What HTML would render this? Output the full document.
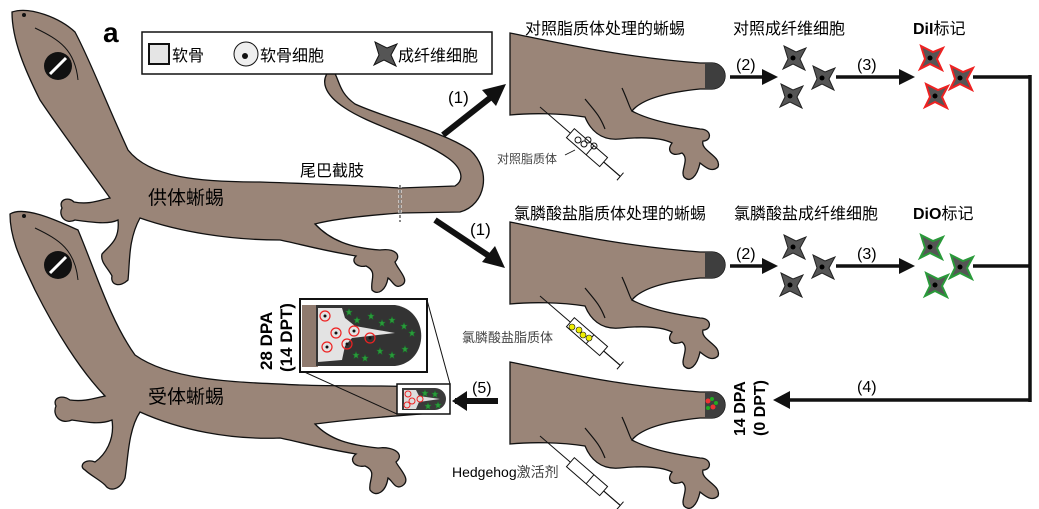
<!DOCTYPE html>
<html><head><meta charset="utf-8"><style>
html,body{margin:0;padding:0;background:#fff}
svg{display:block}
text{font-family:"Liberation Sans","Noto Sans CJK SC",sans-serif}
</style></head><body>
<svg width="1039" height="509" viewBox="0 0 1039 509" xmlns="http://www.w3.org/2000/svg">
<defs>
<g id="part">
<path d="M510,222 C560,232 620,246 700,252 L712,252 A13,13 0 0 1 712,278 L700,278 C660,282 640,290 632,300 C650,310 680,315 700,318 C712,318 712,330 703,330 C700,340 722,345 718,356 C712,362 705,356 700,352 C697,366 690,372 684,366 C680,360 690,348 682,342 C672,346 666,340 672,332 C660,326 640,326 620,328 C600,330 590,318 585,306 C560,302 530,302 510,304 Z" fill="#9a8578" stroke="#111" stroke-width="1.3"/>
<path d="M622,277 C628,290 630,298 632,300" fill="none" stroke="#111" stroke-width="1.2"/>
<path d="M585,288 C595,300 600,305 605,318" fill="none" stroke="#111" stroke-width="1.2"/>
<line x1="540" y1="296" x2="620" y2="365" stroke="#111" stroke-width="1"/>
<g transform="translate(584,334) rotate(41)"><rect x="-18" y="-6" width="44" height="12" fill="#fff" stroke="#111"/><line x1="8" y1="-6" x2="8" y2="6" stroke="#111"/><line x1="26" y1="0" x2="48" y2="0" stroke="#111"/><line x1="48" y1="-5" x2="48" y2="5" stroke="#111"/></g>
</g>
<g id="star"><path d="M-9,-12 L3,-6 L13,-10 L7,1 L12,12 L0,6 L-10,11 L-5,1 Z"/></g>
<g id="gs"><path d="M0,-3.5 L1,-1 L3.5,-1 L1.5,0.8 L2.2,3.5 L0,2 L-2.2,3.5 L-1.5,0.8 L-3.5,-1 L-1,-1 Z" fill="#2a9a3a" stroke="#1a6a2a" stroke-width=".5"/></g>
</defs>

<!-- donor gecko -->
<path d="M12,12 C30,6 60,18 75,32 C90,60 105,100 128,150 C150,178 200,182 260,182 C320,184 370,186 400,188 L455,186 C465,180 462,168 448,158 C420,138 370,125 345,108 C325,95 318,80 332,68 C340,80 338,92 355,104 C390,120 440,130 470,150 C492,170 486,205 460,212 L400,213 C360,216 330,220 315,224 C330,240 350,248 380,250 C395,248 402,255 395,262 C398,270 410,280 402,285 C395,290 392,280 388,278 C386,290 378,296 372,290 C370,280 378,272 366,266 C358,268 350,262 356,256 C320,250 300,244 280,240 C230,240 180,232 140,218 C128,240 130,262 128,280 C120,288 110,285 112,276 C108,268 100,262 102,254 C110,245 120,240 118,220 C108,225 90,222 75,220 C65,225 58,215 62,208 C58,200 68,196 74,202 C90,205 100,200 110,198 C90,170 60,130 40,100 C25,70 12,40 12,12 Z" fill="#9a8578" stroke="#111" stroke-width="1.3"/>
<circle cx="24" cy="15" r="2" fill="#111"/>
<circle cx="58" cy="66" r="14" fill="#111"/><line x1="50" y1="74" x2="66" y2="58" stroke="#fff" stroke-width="3"/>
<path d="M35,28 C60,40 75,50 78,80" fill="none" stroke="#111"/>
<line x1="400" y1="185" x2="400" y2="222" stroke="#fff" stroke-width="3" stroke-dasharray="3,2"/>
<line x1="400" y1="185" x2="400" y2="222" stroke="#111" stroke-width="1" stroke-dasharray="3,2"/>

<!-- recipient gecko -->
<path d="M10,214 C25,205 60,222 78,230 C95,270 110,320 135,355 C170,380 230,382 300,385 C360,387 410,384 445,390 L446,412 C410,415 360,418 315,424 C330,440 350,445 378,448 C395,446 405,455 396,462 C400,470 412,480 402,486 C395,490 392,480 388,478 C386,492 376,498 370,490 C368,480 378,472 365,466 C355,468 348,460 356,454 C320,448 300,442 280,438 C230,440 180,430 140,412 C128,430 128,460 125,478 C120,490 110,492 105,485 C100,480 90,475 85,470 C78,466 85,458 95,462 C105,455 115,440 112,420 C100,425 85,422 72,420 C60,425 52,415 56,406 C52,398 62,394 70,400 C85,402 95,398 105,396 C80,370 55,330 35,290 C22,262 10,240 10,214 Z" fill="#9a8578" stroke="#111" stroke-width="1.3"/>
<circle cx="24" cy="216" r="2" fill="#111"/>
<circle cx="58" cy="265" r="14" fill="#111"/><line x1="50" y1="273" x2="66" y2="257" stroke="#fff" stroke-width="3"/>
<path d="M35,228 C60,240 75,250 78,280" fill="none" stroke="#111"/>

<!-- small box on recipient tail -->
<rect x="397" y="384" width="53" height="30" fill="#fff" stroke="#111" stroke-width="1.5"/>
<path d="M402,388 L435,388 A11,11 0 0 1 435,410 L402,410 Z" fill="#3a3a3a"/>
<path d="M404,390 L416,390 L419,396 L440,399 L419,402 L416,409 L404,409 Z" fill="#ddd"/>
<g fill="none" stroke="#e22" stroke-width="1"><circle cx="408" cy="394" r="3"/><circle cx="412" cy="401" r="3"/><circle cx="420" cy="399" r="3"/><circle cx="407" cy="405" r="3"/></g>
<g><use href="#gs" transform="translate(425,393)"/><use href="#gs" transform="translate(435,394)"/><use href="#gs" transform="translate(428,406)"/><use href="#gs" transform="translate(438,405)"/></g>
<line x1="397" y1="414" x2="300" y2="370" stroke="#111"/>
<line x1="450" y1="384" x2="427" y2="300" stroke="#111"/>
<!-- big inset -->
<rect x="300" y="299" width="127" height="73" fill="#fff" stroke="#111" stroke-width="2"/>
<rect x="302" y="305" width="16" height="62" fill="#8f7a6e"/>
<path d="M316,305 L395,305 C430,310 430,362 395,366 L316,366 Z" fill="#333"/>
<path d="M318,308 L342,308 L345,318 L355,326 L395,333 L352,338 L345,346 L342,360 L318,362 Z" fill="#e3e3e3"/>
<g fill="none" stroke="#e22" stroke-width="1.2"><circle cx="325" cy="316" r="5"/><circle cx="336" cy="333" r="5"/><circle cx="354" cy="331" r="5"/><circle cx="370" cy="338" r="5"/><circle cx="327" cy="347" r="5"/><circle cx="347" cy="344" r="5"/></g>
<g fill="#111"><circle cx="325" cy="316" r="1.5"/><circle cx="336" cy="333" r="1.5"/><circle cx="354" cy="331" r="1.5"/><circle cx="370" cy="338" r="1.5"/><circle cx="327" cy="347" r="1.5"/><circle cx="347" cy="344" r="1.5"/></g>
<g transform="scale(1)"><use href="#gs" transform="translate(349,312)"/><use href="#gs" transform="translate(357,320)"/><use href="#gs" transform="translate(371,316)"/><use href="#gs" transform="translate(382,323)"/><use href="#gs" transform="translate(392,320)"/><use href="#gs" transform="translate(404,326)"/><use href="#gs" transform="translate(412,333)"/><use href="#gs" transform="translate(356,355)"/><use href="#gs" transform="translate(365,358)"/><use href="#gs" transform="translate(380,351)"/><use href="#gs" transform="translate(392,355)"/><use href="#gs" transform="translate(405,349)"/></g>
<text transform="translate(272,370) rotate(-90)" font-size="17" font-weight="bold">28 DPA</text>
<text transform="translate(292,372) rotate(-90)" font-size="17" font-weight="bold">(14 DPT)</text>

<!-- legend -->
<text x="103" y="42" font-size="28" font-weight="bold">a</text>
<rect x="142" y="32" width="350" height="42" fill="#fff" stroke="#111" stroke-width="1.5"/>
<rect x="149" y="44" width="20" height="20" fill="#e5e5e5" stroke="#111" stroke-width="2"/>
<text x="172" y="61" font-size="16">软骨</text>
<circle cx="246" cy="54" r="12" fill="#eee" stroke="#111"/><circle cx="245" cy="56" r="3" fill="#111"/>
<text x="260" y="61" font-size="16">软骨细胞</text>
<use href="#star" transform="translate(384,54)" fill="#555" stroke="#111"/>
<text x="398" y="61" font-size="16">成纤维细胞</text>

<text x="300" y="176" font-size="16">尾巴截肢</text>
<text x="148" y="204" font-size="19">供体蜥蜴</text>
<text x="148" y="403" font-size="19">受体蜥蜴</text>

<!-- arrows (1) -->
<line x1="443" y1="135" x2="495" y2="94" stroke="#111" stroke-width="6"/>
<polygon points="506,84 482,90 496,106" fill="#111"/>
<text x="448" y="103" font-size="17">(1)</text>
<line x1="435" y1="220" x2="492" y2="258" stroke="#111" stroke-width="6"/>
<polygon points="505,268 482,262 495,246" fill="#111"/>
<text x="470" y="235" font-size="17">(1)</text>

<!-- partial geckos -->
<use href="#part" transform="translate(0,-189)"/>
<use href="#part"/>
<use href="#part" transform="translate(0,140)"/>
<path d="M705,63 L712,63 A13,13 0 0 1 712,89 L705,89 Z" fill="#3e3e3e"/>
<path d="M705,252 L712,252 A13,13 0 0 1 712,278 L705,278 Z" fill="#3e3e3e"/>
<path d="M705,392 L712,392 A13,13 0 0 1 712,418 L705,418 Z" fill="#3e3e3e"/>
<g fill="#e33"><circle cx="708" cy="401" r="2.5"/><circle cx="713" cy="407" r="2.5"/></g>
<g fill="#2a2"><circle cx="712" cy="399" r="2"/><circle cx="708" cy="408" r="2"/><circle cx="716" cy="403" r="2"/></g>
<!-- syringe dots -->
<g fill="none" stroke="#111"><circle cx="578" cy="140" r="3"/><circle cx="584" cy="144" r="3"/><circle cx="588" cy="140" r="3"/><circle cx="594" cy="146" r="3"/></g>
<g fill="#ee0" stroke="#111" stroke-width=".6"><circle cx="572" cy="327" r="3"/><circle cx="579" cy="330" r="3"/><circle cx="583" cy="335" r="3"/><circle cx="589" cy="338" r="3"/></g>
<line x1="565" y1="155" x2="575" y2="150" stroke="#111" stroke-width=".8"/>
<text x="497" y="163" font-size="12" fill="#444">对照脂质体</text>
<text x="462" y="342" font-size="13" fill="#444">氯膦酸盐脂质体</text>
<text x="452" y="477" font-size="14">Hedgehog<tspan fill="#444">激活剂</tspan></text>

<!-- titles -->
<text x="525" y="34" font-size="16">对照脂质体处理的蜥蜴</text>
<text x="733" y="34" font-size="16">对照成纤维细胞</text>
<text x="913" y="34" font-size="16"><tspan font-weight="bold">DiI</tspan>标记</text>
<text x="514" y="219" font-size="16">氯膦酸盐脂质体处理的蜥蜴</text>
<text x="734" y="219" font-size="16">氯膦酸盐成纤维细胞</text>
<text x="913" y="219" font-size="16"><tspan font-weight="bold">DiO</tspan>标记</text>

<!-- row arrows -->
<g stroke="#111" stroke-width="3.5">
<line x1="730" y1="77" x2="765" y2="77"/><line x1="836" y1="77" x2="902" y2="77"/><line x1="973" y1="77" x2="1030" y2="77"/>
<line x1="730" y1="266" x2="765" y2="266"/><line x1="836" y1="266" x2="902" y2="266"/><line x1="973" y1="266" x2="1030" y2="266"/>
<line x1="1030" y1="75" x2="1030" y2="402"/><line x1="790" y1="400" x2="1031" y2="400"/>
<line x1="455" y1="401" x2="498" y2="401" stroke-width="6"/>
</g>
<g fill="#111">
<polygon points="778,77 762,69 762,85"/><polygon points="915,77 899,69 899,85"/>
<polygon points="778,266 762,258 762,274"/><polygon points="915,266 899,258 899,274"/>
<polygon points="773,400 790,391 790,409"/>
<polygon points="452,401 467,391 467,411"/>
</g>
<text x="736" y="70" font-size="16">(2)</text><text x="857" y="70" font-size="16">(3)</text>
<text x="736" y="259" font-size="16">(2)</text><text x="857" y="259" font-size="16">(3)</text>
<text x="857" y="392" font-size="16">(4)</text>
<text x="472" y="393" font-size="16">(5)</text>
<text transform="translate(745,436) rotate(-90)" font-size="16" font-weight="bold">14 DPA</text>
<text transform="translate(765,436) rotate(-90)" font-size="16" font-weight="bold">(0 DPT)</text>

<!-- cells -->
<g fill="#555" stroke="#222" stroke-width="1">
<use href="#star" transform="translate(793,58)"/><use href="#star" transform="translate(822,78)"/><use href="#star" transform="translate(790,96)"/>
<use href="#star" transform="translate(793,247)"/><use href="#star" transform="translate(822,267)"/><use href="#star" transform="translate(790,285)"/>
</g>
<g fill="#555" stroke="#e22" stroke-width="2">
<use href="#star" transform="translate(930,58)"/><use href="#star" transform="translate(960,78)"/><use href="#star" transform="translate(935,96)"/>
</g>
<g fill="#555" stroke="#2a9a3a" stroke-width="2">
<use href="#star" transform="translate(930,247)"/><use href="#star" transform="translate(960,267)"/><use href="#star" transform="translate(935,285)"/>
</g>
<g fill="#000">
<circle cx="793" cy="58" r="2.5"/><circle cx="822" cy="78" r="2.5"/><circle cx="790" cy="96" r="2.5"/>
<circle cx="793" cy="247" r="2.5"/><circle cx="822" cy="267" r="2.5"/><circle cx="790" cy="285" r="2.5"/>
<circle cx="930" cy="58" r="2.5"/><circle cx="960" cy="78" r="2.5"/><circle cx="935" cy="96" r="2.5"/>
<circle cx="930" cy="247" r="2.5"/><circle cx="960" cy="267" r="2.5"/><circle cx="935" cy="285" r="2.5"/>
</g>
</svg>
</body></html>
